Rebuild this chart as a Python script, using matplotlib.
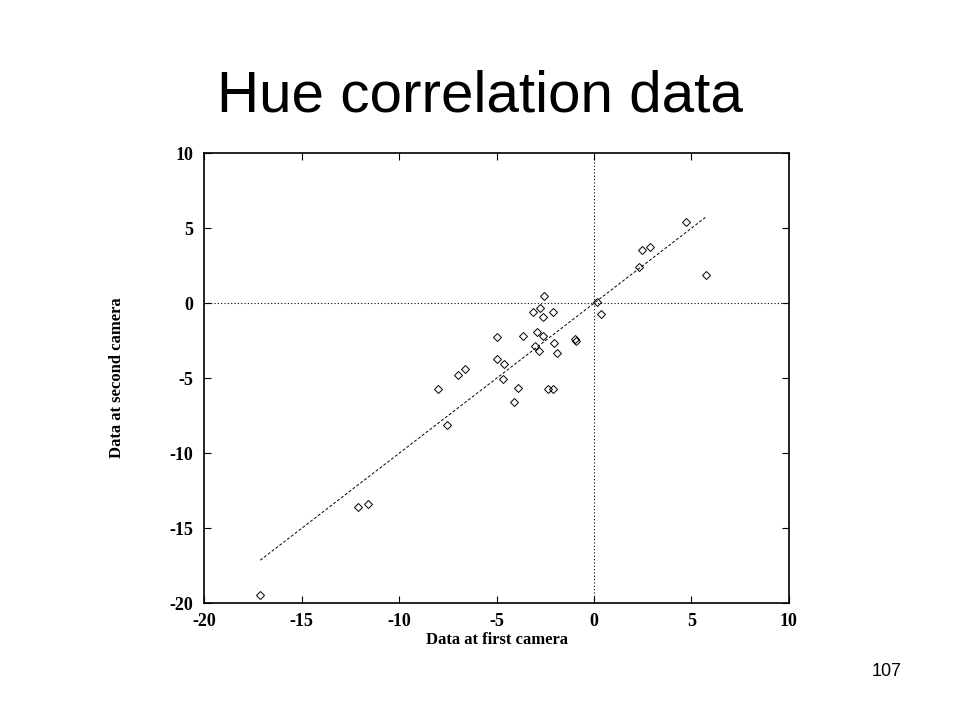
import numpy as np
import matplotlib
matplotlib.use('Agg')
import matplotlib.pyplot as plt

plt.rcParams['axes.unicode_minus'] = False

# values
first_cam = [-17.13, -12.09, -11.58, -8.02, -7.54, -6.99, -6.62, -4.96, -4.96, -4.61,
             -4.68, -4.09, -3.90, -3.65, -3.14, -3.02, -2.94, -2.80, -2.77, -2.63,
             -2.60, -2.56, -2.37, -2.10, -2.08, -2.05, -1.91, -0.97, -0.92, 0.17,
             0.36, 2.33, 2.47, 2.88, 4.73, 5.75]
second_cam = [-19.45, -13.56, -13.38, -5.71, -8.11, -4.80, -4.40, -2.27, -3.71, -4.05,
              -5.05, -6.60, -5.67, -2.18, -0.60, -2.83, -1.94, -3.16, -0.29, -0.89,
              -2.16, 0.49, -5.71, -5.71, -0.56, -2.67, -3.33, -2.40, -2.52, 0.11,
              -0.71, 2.40, 3.55, 3.73, 5.42, 1.87]
fit_slope = 1.0
fit_intercept = 0.0
ticks = [-20, -15, -10, -5, 0, 5, 10]

x = np.asarray(first_cam)
y = np.asarray(second_cam)

fig = plt.figure(figsize=(9.6, 7.2), dpi=100)
ax = fig.add_axes([0.2128, 0.1621, 0.6088, 0.625])

# dotted zero lines
ax.axhline(0, color='black', lw=0.8, ls=(0, (1, 2)))
ax.axvline(0, color='black', lw=0.8, ls=(0, (1, 2)))

# fitted line over the data range
xf = np.array([x.min(), x.max()])
ax.plot(xf, fit_slope * xf + fit_intercept, color='black', lw=0.7, ls=(0, (3, 2)))
ax.plot(x, y, 'D', ms=4.2, mfc='none', mec='black', mew=0.7)

ax.set_xlim(-20, 10)
ax.set_ylim(-20, 10)
ax.set_xticks(ticks)
ax.set_yticks(ticks)
for s in ax.spines.values():
    s.set_linewidth(1.2)

ax.tick_params(direction='in', length=5, width=0.8, top=True, right=True)
ax.tick_params(axis='x', pad=7)
ax.tick_params(axis='y', pad=8)
for lab in ax.get_xticklabels() + ax.get_yticklabels():
    lab.set_fontfamily('Liberation Serif')
    lab.set_fontweight('bold')
    lab.set_fontsize(13)

fig.text(496.5 / 960, 1 - 640 / 720, 'Data at first camera', ha='center', va='center',
         family='Liberation Serif', weight='bold', fontsize=12)
fig.text(117 / 960, 1 - 378 / 720, 'Data at second camera', ha='center', va='center',
         rotation=90, family='Liberation Serif', weight='bold', fontsize=12)

fig.text(0.5, 1 - 112 / 720, 'Hue correlation data', ha='center', va='baseline',
         family='Liberation Sans', fontsize=42)
fig.text(887 / 960, 1 - 671 / 720, '107', ha='center', va='center',
         family='Liberation Sans', fontsize=13)

fig.savefig('out.png', dpi=100)
